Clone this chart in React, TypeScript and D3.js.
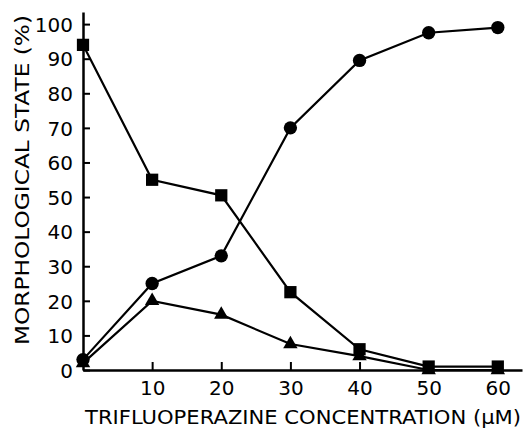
import React, { useEffect, useRef } from 'react';
import * as d3 from 'd3';

// trifluoperazine concentration (uM)
const concentrations = [0, 10, 20, 30, 40, 50, 60];
const squareSeries = [94, 55, 50.5, 22.5, 6, 1, 1];
const circleSeries = [3, 25, 33, 70, 89.5, 97.5, 99];
const triangleSeries = [2, 20, 16, 7.5, 4, 0, 0];
const xTicks = [10, 20, 30, 40, 50, 60];
const yTicks = [0, 10, 20, 30, 40, 50, 60, 70, 80, 90, 100];

const App = () => {
  const ref = useRef<SVGSVGElement | null>(null);

  useEffect(() => {
    if (!ref.current) return;
    const svg = d3.select(ref.current);
    svg.selectAll('*').remove();

    const x = d3.scaleLinear().domain([0, 63.5]).range([83, 522]);
    const y = d3.scaleLinear().domain([0, 103.5]).range([370, 12]);
    const font = 'DejaVu Sans, Verdana, sans-serif';

    // axes
    const xAxis = svg.append('g')
      .attr('transform', `translate(0,${y(0)})`)
      .call(d3.axisBottom(x).tickValues(xTicks).tickSizeInner(-8).tickSizeOuter(0).tickFormat(d3.format('d')));
    xAxis.select('.domain').attr('stroke', '#000').attr('stroke-width', 2.5);
    xAxis.selectAll('.tick line').attr('stroke', '#000').attr('stroke-width', 2);
    xAxis.selectAll('.tick text')
      .attr('font-family', font).attr('font-size', 20).attr('fill', '#000').attr('dy', 0).attr('y', 25);

    const yAxis = svg.append('g')
      .attr('transform', `translate(${x(0)},0)`)
      .call(d3.axisLeft(y).tickValues(yTicks).tickSizeInner(-7).tickSizeOuter(0).tickFormat(d3.format('d')));
    yAxis.select('.domain').attr('stroke', '#000').attr('stroke-width', 2.5);
    yAxis.selectAll('.tick line').attr('stroke', '#000').attr('stroke-width', 2);
    yAxis.selectAll('.tick text')
      .attr('font-family', font).attr('font-size', 20).attr('fill', '#000').attr('x', -10).attr('dy', '0.36em');

    // axis titles
    svg.append('text')
      .attr('x', 303).attr('y', 424)
      .attr('text-anchor', 'middle')
      .attr('font-family', font).attr('font-size', 19)
      .attr('textLength', 436).attr('lengthAdjust', 'spacingAndGlyphs')
      .text('TRIFLUOPERAZINE CONCENTRATION (\u03bcM)');
    svg.append('text')
      .attr('transform', `translate(29,180) rotate(-90)`)
      .attr('text-anchor', 'middle')
      .attr('font-family', font).attr('font-size', 19)
      .attr('textLength', 330).attr('lengthAdjust', 'spacingAndGlyphs')
      .text('MORPHOLOGICAL STATE (%)');

    const line = d3.line<number>()
      .x((d, i) => x(concentrations[i]))
      .y(d => y(d));

    const series = [
      { values: squareSeries, symbol: d3.symbolSquare, size: 150 },
      { values: circleSeries, symbol: d3.symbolCircle, size: 140 },
      { values: triangleSeries, symbol: d3.symbolTriangle, size: 90 },
    ];

    series.forEach(s => {
      svg.append('path')
        .attr('d', line(s.values))
        .attr('fill', 'none')
        .attr('stroke', '#000')
        .attr('stroke-width', 2.2);
      svg.append('g')
        .selectAll('path')
        .data(s.values)
        .enter()
        .append('path')
        .attr('transform', (d, i) => `translate(${x(concentrations[i])},${y(d)})`)
        .attr('d', d3.symbol().type(s.symbol).size(s.size)())
        .attr('fill', '#000');
    });
  }, []);

  return (
    <svg ref={ref} width={526} height={428} style={{ position: 'absolute', left: 0, top: 0, background: '#fff' }} />
  );
};

export default App;
